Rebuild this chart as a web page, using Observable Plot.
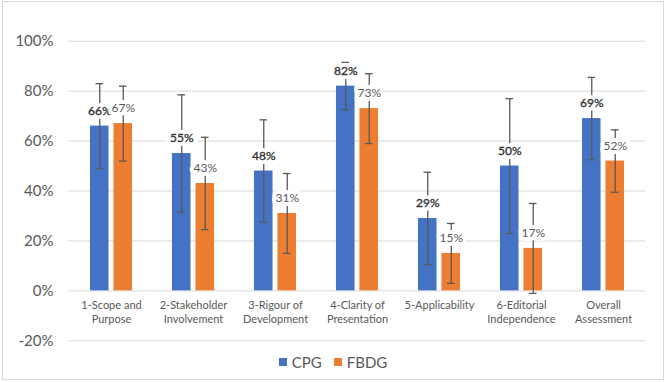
<!DOCTYPE html>
<html>
<head>
<meta charset="utf-8">
<script src="https://cdn.jsdelivr.net/npm/d3@7"></script>
<script src="https://cdn.jsdelivr.net/npm/@observablehq/plot@0.6"></script>
<style>
  html, body { margin: 0; padding: 0; background: #fff; }
  #wrap { position: relative; width: 666px; height: 382px; overflow: hidden; font-family: Lato, sans-serif; }
  #frame { position: absolute; left: 2px; top: 1px; width: 662px; height: 379px; box-sizing: border-box; border: 1px solid #D9D9D9; pointer-events: none; }
  #chart { position: absolute; left: 0; top: 0; }
  #legend { position: absolute; left: 0; top: 352px; width: 666px; height: 20px; display: flex; justify-content: center; align-items: center; font-size: 15px; color: #595959; }
  #legend .item { display: flex; align-items: center; margin: 0 6px; }
  #legend .sw { width: 8px; height: 8px; margin-right: 5px; }
</style>
</head>
<body>
<div id="wrap">
  <div id="chart"></div>
  <div id="legend"></div>
  <div id="frame"></div>
</div>
<script>
const categories = ["1-Scope and\nPurpose", "2-Stakeholder\nInvolvement", "3-Rigour of\nDevelopment", "4-Clarity of\nPresentation", "5-Applicability", "6-Editorial\nIndependence", "Overall\nAssessment"];
const series = ["CPG", "FBDG"];
const colors = ["#4472C4", "#ED7D31"];
const cpgValues = [66, 55, 48, 82, 29, 50, 69];
const fbdgValues = [67, 43, 31, 73, 15, 17, 52];
const cpgErrors = [17, 23.5, 20.5, 9.5, 18.5, 27, 16.5];
const fbdgErrors = [15, 18.5, 16, 14, 12, 18, 12.5];
const yTicks = [-20, 0, 20, 40, 60, 80, 100];

const rows = categories.map((c, i) => ({
  cat: c,
  cpg: cpgValues[i], fbdg: fbdgValues[i],
  cpgLo: cpgValues[i] - cpgErrors[i], cpgHi: cpgValues[i] + cpgErrors[i],
  fbdgLo: fbdgValues[i] - fbdgErrors[i], fbdgHi: fbdgValues[i] + fbdgErrors[i]
}));

const W = 666, H = 352, mL = 68, mR = 21, mT = 40.7, mB = H - 340.3;
const bw = (W - mL - mR) / categories.length;
const off = 11.75, barW = 19, capW = 8;
const ins = (center, w) => ({insetLeft: bw / 2 + center - w / 2, insetRight: bw / 2 - center - w / 2});
const grey = "#595959";
const dark = "#333333";

const plot = Plot.plot({
  width: W, height: H,
  marginLeft: mL, marginRight: mR, marginTop: mT, marginBottom: mB,
  style: {fontFamily: "Lato, sans-serif", background: "transparent"},
  x: {type: "band", domain: categories, padding: 0, axis: null},
  y: {domain: [-20, 100], axis: null},
  marks: [
    Plot.ruleY(yTicks, {y: d => d, stroke: "#D9D9D9", strokeWidth: 1}),
    Plot.text(yTicks, {y: d => d, text: d => d + "%", frameAnchor: "left", dx: -15, textAnchor: "end", fontSize: 15, fill: grey}),
    Plot.barY(rows, {x: "cat", y1: 0, y2: "cpg", fill: colors[0], ...ins(-off, barW)}),
    Plot.barY(rows, {x: "cat", y1: 0, y2: "fbdg", fill: colors[1], ...ins(off, barW)}),
    Plot.ruleX(rows, {x: "cat", y1: "cpgLo", y2: "cpgHi", dx: -off, stroke: grey, strokeWidth: 1.3}),
    Plot.ruleX(rows, {x: "cat", y1: "fbdgLo", y2: "fbdgHi", dx: off, stroke: grey, strokeWidth: 1.3}),
    Plot.tickY(rows, {x: "cat", y: "cpgHi", stroke: grey, strokeWidth: 1.3, ...ins(-off, capW)}),
    Plot.tickY(rows, {x: "cat", y: "cpgLo", stroke: grey, strokeWidth: 1.3, ...ins(-off, capW)}),
    Plot.tickY(rows, {x: "cat", y: "fbdgHi", stroke: grey, strokeWidth: 1.3, ...ins(off, capW)}),
    Plot.tickY(rows, {x: "cat", y: "fbdgLo", stroke: grey, strokeWidth: 1.3, ...ins(off, capW)}),
    Plot.text(rows, {x: "cat", y: "cpg", text: d => d.cpg + "%", dx: -off, dy: -15, fontSize: 12, fill: "white", stroke: "white", strokeWidth: 8}),
    Plot.text(rows, {x: "cat", y: "cpg", text: d => d.cpg + "%", dx: -off, dy: -15, fontSize: 12, fill: dark, stroke: dark, strokeWidth: 0.35}),
    Plot.text(rows, {x: "cat", y: "fbdg", text: d => d.fbdg + "%", dx: off, dy: -15, fontSize: 12, fill: grey, stroke: "white", strokeWidth: 8, paintOrder: "stroke"}),
    Plot.text(rows, {x: "cat", y: () => 0, text: "cat", dy: 9, lineAnchor: "top", lineHeight: 1.21, fontSize: 11, fill: grey})
  ]
});
document.getElementById("chart").appendChild(plot);

const legend = document.getElementById("legend");
series.forEach((s, i) => {
  const item = document.createElement("div");
  item.className = "item";
  const sw = document.createElement("div");
  sw.className = "sw";
  sw.style.background = colors[i];
  const label = document.createElement("span");
  label.textContent = s;
  item.appendChild(sw);
  item.appendChild(label);
  legend.appendChild(item);
});
</script>
</body>
</html>
